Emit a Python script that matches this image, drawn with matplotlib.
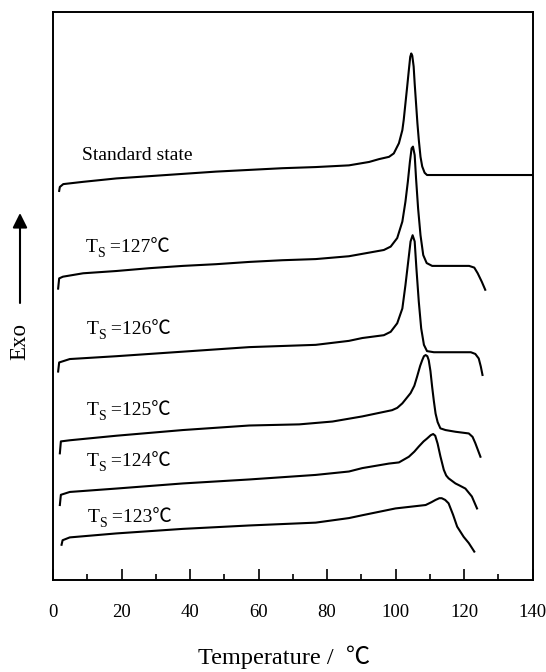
import matplotlib
matplotlib.use("Agg")
import matplotlib.pyplot as plt
from matplotlib.ticker import MultipleLocator

plt.rcParams['font.family'] = ['Liberation Serif', 'Noto Sans CJK SC', 'DejaVu Serif']

# DSC curves (temperature in C, heat flow in arbitrary offset units)
t_std = [1.8, 2.0, 3.0, 8.8, 18.5, 28.2, 37.9, 47.6, 57.3, 67.0, 76.7, 86.4, 92.3, 95.2,
         98.1, 99.5, 101.0, 102.0, 102.4, 102.9, 103.4, 103.9, 104.3, 104.6, 104.9, 105.3,
         105.6, 106.0, 106.4, 106.8, 107.3, 107.8, 108.5, 109.2, 140.0]
y_std = [68.5, 69.2, 69.7, 70.1, 70.7, 71.1, 71.5, 71.9, 72.2, 72.5, 72.7, 73.0, 73.6, 74.1,
         74.5, 75.1, 76.9, 79.2, 81.0, 83.9, 86.8, 89.8, 92.1, 92.7, 92.3, 90.4,
         87.4, 83.9, 80.4, 77.5, 74.5, 72.8, 71.7, 71.3, 71.3]

t_127 = [1.5, 1.8, 2.9, 8.8, 18.5, 28.2, 37.9, 47.6, 57.3, 67.0, 76.7, 86.4, 96.6, 98.6,
         100.5, 102.0, 102.9, 103.6, 104.2, 104.7, 105.1, 105.6, 106.0, 106.6, 107.3, 108.1,
         109.1, 110.7, 121.5, 123.0, 124.0, 125.2, 126.2]
y_127 = [51.3, 53.1, 53.4, 54.0, 54.4, 54.9, 55.3, 55.6, 56.0, 56.3, 56.5, 57.0, 58.1, 58.7,
         60.2, 63.1, 66.6, 70.1, 73.6, 76.0, 76.3, 74.8, 70.7, 65.4, 60.7, 57.2,
         55.8, 55.3, 55.3, 55.0, 54.0, 52.5, 51.1]

t_126 = [1.5, 1.8, 4.9, 18.5, 37.9, 57.3, 67.0, 76.7, 86.4, 90.3, 96.6, 98.6, 100.5, 102.0,
         102.9, 103.7, 104.4, 105.0, 105.6, 106.1, 106.8, 107.5, 108.3, 109.2, 111.2, 122.0,
         123.3, 124.3, 124.9, 125.4]
y_126 = [36.7, 38.3, 38.9, 39.4, 40.2, 41.0, 41.2, 41.4, 42.1, 42.6, 43.1, 43.7, 45.2, 47.8,
         51.9, 56.0, 59.6, 60.7, 59.6, 54.9, 49.0, 44.3, 41.4, 40.3, 40.1, 40.1,
         39.8, 39.0, 37.6, 36.1]

t_125 = [2.0, 2.3, 4.9, 18.5, 37.9, 57.3, 71.9, 81.6, 90.3, 99.0, 100.5, 102.0, 104.4, 105.5,
         106.3, 107.2, 107.8, 108.3, 108.8, 109.3, 109.7, 110.2, 110.7, 111.2, 111.7, 112.3,
         113.1, 114.6, 117.5, 121.4, 122.5, 123.3, 124.8]
y_125 = [22.3, 24.4, 24.6, 25.4, 26.4, 27.2, 27.4, 27.9, 28.8, 29.9, 30.3, 31.1, 32.9, 34.2,
         35.8, 37.7, 38.7, 39.4, 39.6, 39.4, 38.7, 36.8, 34.0, 31.5, 29.3, 27.8,
         26.7, 26.4, 26.1, 25.8, 25.2, 24.1, 21.7]

t_124 = [2.0, 2.3, 4.9, 18.5, 37.9, 57.3, 76.7, 86.4, 90.3, 98.1, 101.0, 103.9, 105.5, 106.8,
         108.2, 109.2, 110.3, 111.0, 111.6, 112.3, 113.1, 114.1, 114.8, 115.5, 117.5, 118.5,
         120.4, 122.3, 123.8]
y_124 = [13.2, 15.0, 15.5, 16.1, 17.0, 17.7, 18.5, 19.1, 19.7, 20.5, 20.7, 21.7, 22.6, 23.5,
         24.4, 24.9, 25.5, 25.7, 25.4, 24.0, 21.8, 19.4, 18.4, 17.9, 17.0, 16.7,
         16.1, 14.7, 12.6]

t_123 = [2.5, 2.8, 4.9, 18.5, 37.9, 57.3, 76.7, 86.4, 90.3, 100.0, 108.8, 110.5, 111.7, 112.8,
         113.5, 114.5, 115.5, 116.8, 118.0, 119.9, 121.4, 123.0]
y_123 = [6.2, 7.0, 7.5, 8.2, 9.0, 9.6, 10.1, 10.9, 11.4, 12.6, 13.2, 13.7, 14.1, 14.4,
         14.4, 14.1, 13.5, 11.5, 9.4, 7.6, 6.5, 5.0]

curves = [(t_std, y_std), (t_127, y_127), (t_126, y_126),
          (t_125, y_125), (t_124, y_124), (t_123, y_123)]

ts_values = ['127', '126', '125', '124', '123']
label_x = [8.6, 9.5, 9.7, 9.8, 9.8, 10.1]
label_y = [75.0, 58.9, 44.4, 30.2, 21.2, 11.3]

fig = plt.figure(figsize=(5.46, 6.72), dpi=100)
ax = fig.add_axes([53 / 546, 92 / 672, 479.5 / 546, 568 / 672])

for t, y in curves:
    ax.plot(t, y, color='black', linewidth=1.5, solid_joinstyle='round')

# labels, text baseline sits a bit below the visual centre
fs = 14
ax.text(label_x[0], label_y[0] - 1.1, 'Standard state', fontsize=fs, va='baseline')
for ts, lx, ly in zip(ts_values, label_x[1:], label_y[1:]):
    base = ly - 1.1
    t1 = ax.text(lx, base, 'T', fontsize=fs, va='baseline')
    t2 = ax.annotate('S', xy=(1, base - 0.9), xycoords=(t1, 'data'),
                     fontsize=10, va='baseline', ha='left')
    ax.annotate(' =' + ts + '℃', xy=(1, base), xycoords=(t2, 'data'),
                fontsize=fs, va='baseline', ha='left')

ax.set_xlim(0, 140)
ax.set_ylim(0, 100)
ax.set_yticks([])
ax.xaxis.set_major_locator(MultipleLocator(20))
ax.xaxis.set_minor_locator(MultipleLocator(10))
ax.tick_params(axis='x', which='major', direction='in', length=8, width=1.2,
               labelsize=13.5, pad=17)
ax.tick_params(axis='x', which='minor', direction='in', length=4.3, width=1.2)
for s in ax.spines.values():
    s.set_linewidth(1.4)

fig.text(284 / 546, 1 - 657 / 672, 'Temperature /  ℃', fontsize=17.5,
         ha='center', va='center')

# Exo arrow on the left
fig.text(20 / 546, 1 - 342 / 672, 'Exo', fontsize=16.5, rotation=90,
         ha='center', va='center')
ax.annotate('', xy=(20 / 546, 1 - 213 / 672), xytext=(20 / 546, 1 - 303 / 672),
            xycoords='figure fraction', textcoords='figure fraction',
            arrowprops=dict(arrowstyle='-|>', color='black', lw=1.5,
                            mutation_scale=22, shrinkA=0, shrinkB=0))

fig.savefig('out.png', dpi=100)
